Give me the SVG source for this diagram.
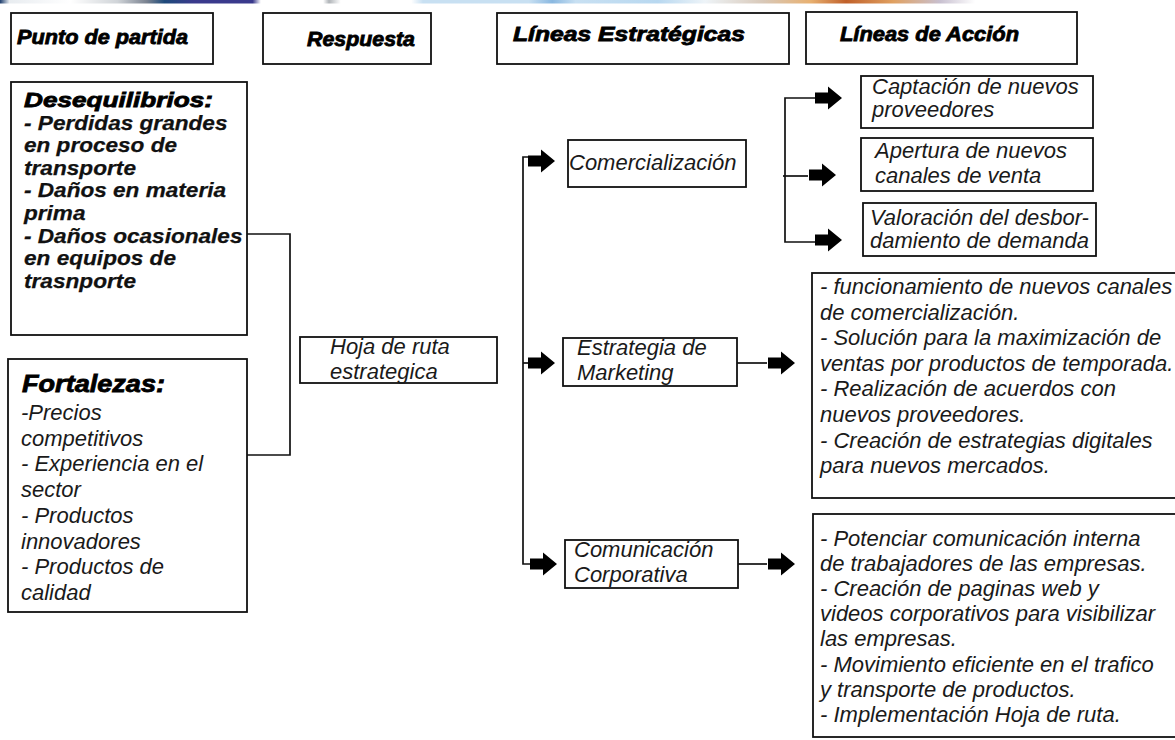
<svg xmlns="http://www.w3.org/2000/svg" width="1175" height="740" viewBox="0 0 1175 740">
  <defs>
    <style>
      .box { fill: #fff; stroke: #111; stroke-width: 1.8; }
      .hdr { font-family: "Liberation Sans", Arial, sans-serif; font-style: italic; font-weight: bold; font-size: 20px; fill: #000; stroke: #000; stroke-width: 0.8; }
      .ttl { font-family: "Liberation Sans", Arial, sans-serif; font-style: italic; font-weight: bold; fill: #000; stroke: #000; stroke-width: 0.8; }
      .tb { font-family: "Liberation Sans", Arial, sans-serif; font-style: italic; font-weight: bold; font-size: 20.5px; fill: #111; stroke: #111; stroke-width: 0.25; }
      .t { font-family: "Liberation Sans", Arial, sans-serif; font-style: italic; font-size: 22px; fill: #1a1a1a; }
      .wire { fill: none; stroke: #111; stroke-width: 1.7; }
      .arw { fill: #000; }
    </style>
    <!-- block arrow pointing right, origin at tail centre -->
    <path id="arw" d="M0,-5.5 H13 V-11.5 L27,0 L13,11.5 V5.5 H0 Z"/>
    <linearGradient id="band" x1="0" y1="0" x2="1175" y2="0" gradientUnits="userSpaceOnUse">
      <stop offset="0" stop-color="#1f3f6e"/>
      <stop offset="0.008" stop-color="#e8ecf0"/>
      <stop offset="0.06" stop-color="#ffffff"/>
      <stop offset="0.1" stop-color="#d0d4d8"/>
      <stop offset="0.125" stop-color="#7a8290"/>
      <stop offset="0.14" stop-color="#1e4a7a"/>
      <stop offset="0.165" stop-color="#3a3a8c"/>
      <stop offset="0.215" stop-color="#3a3a8c"/>
      <stop offset="0.222" stop-color="#ffffff"/>
      <stop offset="0.275" stop-color="#ffffff"/>
      <stop offset="0.28" stop-color="#b0b4b8"/>
      <stop offset="0.29" stop-color="#ffffff"/>
      <stop offset="0.35" stop-color="#ffffff"/>
      <stop offset="0.36" stop-color="#c8e0f2"/>
      <stop offset="0.45" stop-color="#c8e0f2"/>
      <stop offset="0.47" stop-color="#8ab8e0"/>
      <stop offset="0.49" stop-color="#c8e0f2"/>
      <stop offset="0.56" stop-color="#b8d8f0"/>
      <stop offset="0.6" stop-color="#eef4f8"/>
      <stop offset="0.65" stop-color="#d8c8b8"/>
      <stop offset="0.69" stop-color="#e8b070"/>
      <stop offset="0.72" stop-color="#c0602a"/>
      <stop offset="0.76" stop-color="#e0a060"/>
      <stop offset="0.8" stop-color="#c8c0d0"/>
      <stop offset="0.83" stop-color="#ffffff"/>
      <stop offset="1" stop-color="#ffffff"/>
    </linearGradient>
  </defs>

  <rect width="1175" height="740" fill="#fff"/>
  <!-- decorative banner edge along the top -->
  <rect x="0" y="0" width="1175" height="3.5" fill="url(#band)"/>

  <!-- column headers -->
  <g id="n-punto">
    <rect class="box" x="11" y="13" width="202" height="51"/>
    <text class="hdr" x="17" y="44" textLength="171" lengthAdjust="spacingAndGlyphs">Punto de partida</text>
  </g>
  <g id="n-respuesta">
    <rect class="box" x="263" y="13" width="168" height="51"/>
    <text class="hdr" x="307" y="46" textLength="108" lengthAdjust="spacingAndGlyphs">Respuesta</text>
  </g>
  <g id="n-lineas-estrategicas">
    <rect class="box" x="497" y="13" width="292" height="51"/>
    <text class="hdr" x="513" y="41" textLength="232" lengthAdjust="spacingAndGlyphs">Líneas Estratégicas</text>
  </g>
  <g id="n-lineas-accion">
    <rect class="box" x="806" y="12" width="271" height="52"/>
    <text class="hdr" x="840" y="41" textLength="179" lengthAdjust="spacingAndGlyphs">Líneas de Acción</text>
  </g>

  <!-- starting point -->
  <g id="n-desequilibrios">
    <rect class="box" x="11" y="82" width="236" height="253"/>
    <text class="ttl" x="24" y="107" font-size="21" textLength="189" lengthAdjust="spacingAndGlyphs">Desequilibrios:</text>
    <text class="tb" x="24" y="129.6" textLength="203.5" lengthAdjust="spacingAndGlyphs">- Perdidas grandes</text>
    <text class="tb" x="24" y="152.2" textLength="153" lengthAdjust="spacingAndGlyphs">en proceso de</text>
    <text class="tb" x="24" y="174.8" textLength="112" lengthAdjust="spacingAndGlyphs">transporte</text>
    <text class="tb" x="24" y="197.4" textLength="202" lengthAdjust="spacingAndGlyphs">- Daños en materia</text>
    <text class="tb" x="24" y="220" textLength="61.5" lengthAdjust="spacingAndGlyphs">prima</text>
    <text class="tb" x="24" y="242.6" textLength="218.5" lengthAdjust="spacingAndGlyphs">- Daños ocasionales</text>
    <text class="tb" x="24" y="265.2" textLength="152" lengthAdjust="spacingAndGlyphs">en equipos de</text>
    <text class="tb" x="24" y="287.8" textLength="112" lengthAdjust="spacingAndGlyphs">trasnporte</text>
  </g>
  <g id="n-fortalezas">
    <rect class="box" x="8" y="359" width="239" height="253"/>
    <text class="ttl" x="22" y="392" font-size="24" textLength="143" lengthAdjust="spacingAndGlyphs">Fortalezas:</text>
    <text class="t" x="21" y="420">-Precios</text>
    <text class="t" x="21" y="445.7">competitivos</text>
    <text class="t" x="21" y="471.4">- Experiencia en el</text>
    <text class="t" x="21" y="497.1">sector</text>
    <text class="t" x="21" y="522.8">- Productos</text>
    <text class="t" x="21" y="548.5">innovadores</text>
    <text class="t" x="21" y="574.2">- Productos de</text>
    <text class="t" x="21" y="599.9">calidad</text>
  </g>

  <!-- response -->
  <g id="n-hoja-ruta">
    <rect class="box" x="300" y="337" width="197" height="46"/>
    <text class="t" x="330" y="354">Hoja de ruta</text>
    <text class="t" x="330" y="379">estrategica</text>
  </g>

  <!-- strategic lines -->
  <g id="n-comercializacion">
    <rect class="box" x="568" y="140" width="178" height="47"/>
    <text class="t" x="569" y="170">Comercialización</text>
  </g>
  <g id="n-marketing">
    <rect class="box" x="563" y="338" width="174" height="48"/>
    <text class="t" x="577" y="355">Estrategia de</text>
    <text class="t" x="577" y="380">Marketing</text>
  </g>
  <g id="n-comunicacion">
    <rect class="box" x="565" y="540" width="173" height="48"/>
    <text class="t" x="574" y="557">Comunicación</text>
    <text class="t" x="574" y="582">Corporativa</text>
  </g>

  <!-- action lines -->
  <g id="n-captacion">
    <rect class="box" x="861" y="76" width="232" height="52"/>
    <text class="t" x="872" y="94">Captación de nuevos</text>
    <text class="t" x="872" y="117">proveedores</text>
  </g>
  <g id="n-apertura">
    <rect class="box" x="861" y="138" width="232" height="53"/>
    <text class="t" x="875" y="158">Apertura de nuevos</text>
    <text class="t" x="875" y="183">canales de venta</text>
  </g>
  <g id="n-valoracion">
    <rect class="box" x="863" y="203" width="233" height="53"/>
    <text class="t" x="870" y="225">Valoración del desbor-</text>
    <text class="t" x="870" y="248">damiento de demanda</text>
  </g>
  <g id="n-acciones-marketing">
    <rect class="box" x="812" y="273" width="380" height="225"/>
    <text class="t" x="820" y="294">- funcionamiento de nuevos canales</text>
    <text class="t" x="820" y="319.6">de comercialización.</text>
    <text class="t" x="820" y="345.2">- Solución para la maximización de</text>
    <text class="t" x="820" y="370.8">ventas por productos de temporada.</text>
    <text class="t" x="820" y="396.4">- Realización de acuerdos con</text>
    <text class="t" x="820" y="422">nuevos proveedores.</text>
    <text class="t" x="820" y="447.6">- Creación de estrategias digitales</text>
    <text class="t" x="820" y="473.2">para nuevos mercados.</text>
  </g>
  <g id="n-acciones-comunicacion">
    <rect class="box" x="813" y="514" width="380" height="223"/>
    <text class="t" x="820" y="546">- Potenciar comunicación interna</text>
    <text class="t" x="820" y="571.1">de trabajadores de las empresas.</text>
    <text class="t" x="820" y="596.2">- Creación de paginas web y</text>
    <text class="t" x="820" y="621.3">videos corporativos para visibilizar</text>
    <text class="t" x="820" y="646.4">las empresas.</text>
    <text class="t" x="820" y="671.5">- Movimiento eficiente en el trafico</text>
    <text class="t" x="820" y="696.6">y transporte de productos.</text>
    <text class="t" x="820" y="721.7">- Implementación Hoja de ruta.</text>
  </g>

  <!-- connectors -->
  <g id="connectors">
    <path class="wire" d="M247,234 H290 V455 H247"/>
    <path class="wire" d="M528,157 H523 V564 H530"/>
    <path class="wire" d="M523,363 H528"/>
    <path class="wire" d="M737,363 H767"/>
    <path class="wire" d="M738,564 H767"/>
    <path class="wire" d="M815,98 H785 V242 H815"/>
    <path class="wire" d="M783,176 H808"/>
    <g class="arw">
      <use href="#arw" transform="translate(528,161)"/>
      <use href="#arw" transform="translate(528,363)"/>
      <use href="#arw" transform="translate(530,564)"/>
      <use href="#arw" transform="translate(768,363)"/>
      <use href="#arw" transform="translate(768,564)"/>
      <use href="#arw" transform="translate(815,98)"/>
      <use href="#arw" transform="translate(809,175)"/>
      <use href="#arw" transform="translate(815,240)"/>
    </g>
  </g>
</svg>
